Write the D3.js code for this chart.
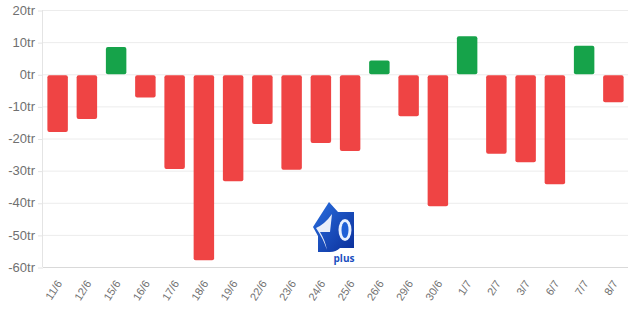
<!DOCTYPE html>
<html><head><meta charset="utf-8">
<script src="https://cdn.jsdelivr.net/npm/d3@7"></script>
<style>body{margin:0;background:#fff;}svg{display:block;font-family:"Open Sans",Arial,sans-serif;}</style>
</head><body><svg id="c" width="640" height="310"></svg>
<script>
const categories = ["11/6","12/6","15/6","16/6","17/6","18/6","19/6","22/6","23/6","24/6","25/6","26/6","29/6","30/6","1/7","2/7","3/7","6/7","7/7","8/7"];
const values = [-17.7,-13.6,8.5,-6.9,-29.2,-57.6,-33,-15.2,-29.4,-21.1,-23.6,4.3,-12.8,-40.8,11.8,-24.4,-27.1,-33.9,8.9,-8.4];
const yTicks = [20,10,0,-10,-20,-30,-40,-50,-60];

const svg = d3.select("#c");
const m = {l:43, r:12, t:10, b:43};
const W = 640, H = 310;
const x = d3.scaleBand().domain(categories).range([m.l, W-m.r]).paddingInner(0.3).paddingOuter(0.15);
const y = d3.scaleLinear().domain([-60,20]).range([H-m.b, m.t]);

// grid
svg.append("g").selectAll("line").data(yTicks).join("line")
  .attr("x1", m.l).attr("x2", W-m.r)
  .attr("y1", d=>y(d)+0.5).attr("y2", d=>y(d)+0.5)
  .attr("stroke", "#ececec").attr("stroke-width",1);

// y axis
const ya = svg.append("g").attr("transform",`translate(${m.l},0)`)
  .call(d3.axisLeft(y).tickValues(yTicks).tickSize(5).tickPadding(3).tickFormat(d=>d+"tr"));
ya.select(".domain").attr("stroke","#e4e4e4").attr("d",`M-0.5,${y(20)}V${y(-60)}`);
ya.selectAll(".tick line").attr("stroke","#e4e4e4").attr("transform","translate(0,0.5)");
ya.selectAll("text").attr("fill","#707070").attr("font-size","13px");

// x axis
const xa = svg.append("g").attr("transform",`translate(0,${y(-60)})`)
  .call(d3.axisBottom(x).tickSize(0).tickPadding(8));
xa.select(".domain").attr("stroke","#d9d9d9").attr("d",`M${m.l},0.5H${W-m.r}`);
xa.selectAll("text").attr("fill","#707070").attr("font-size","11px")
  .attr("text-anchor","end").attr("dy","0.35em")
  .attr("transform","translate(-5,10) rotate(-57)");

// logo watermark
const defs = svg.append("defs");
const grad = defs.append("linearGradient").attr("id","lgG").attr("x1","0").attr("y1","0").attr("x2","1").attr("y2","1");
grad.append("stop").attr("offset","0").attr("stop-color","#2a6fe0");
grad.append("stop").attr("offset","1").attr("stop-color","#0b2f9a");
const lg = svg.append("g").attr("transform","translate(311,200)");
lg.append("path").attr("d","M18,2 L27,12 L43,12 L43,48 L29,48 Q25,52 19,52 L7,52 L7,36 L2,27 Z").attr("fill","url(#lgG)");
lg.append("path").attr("d","M5,28 Q14,24 21,14 L19,32 L9,32 Q14,40 16,50 Q12,38 5,28 Z").attr("fill","#ffffff").attr("opacity",0.9);
lg.append("ellipse").attr("cx",34).attr("cy",30).attr("rx",6.5).attr("ry",11).attr("fill","#e8f0ff");
lg.append("ellipse").attr("cx",34).attr("cy",30).attr("rx",3.5).attr("ry",8).attr("fill","#1f5fd6");
lg.append("text").attr("x",33).attr("y",62).attr("font-size","10px").attr("font-weight","bold")
  .attr("fill","#1a4fc0").attr("text-anchor","middle").text("plus");

// bars
svg.append("g").selectAll("rect").data(values).join("rect")
  .attr("x",(d,i)=>x(categories[i]))
  .attr("width",x.bandwidth())
  .attr("y",d=>d>=0?y(d):y(0)+1)
  .attr("height",d=>Math.abs(y(d)-y(0)))
  .attr("rx",2)
  .attr("fill",d=>d>=0?"#16a34a":"#ef4444");
</script></body></html>
